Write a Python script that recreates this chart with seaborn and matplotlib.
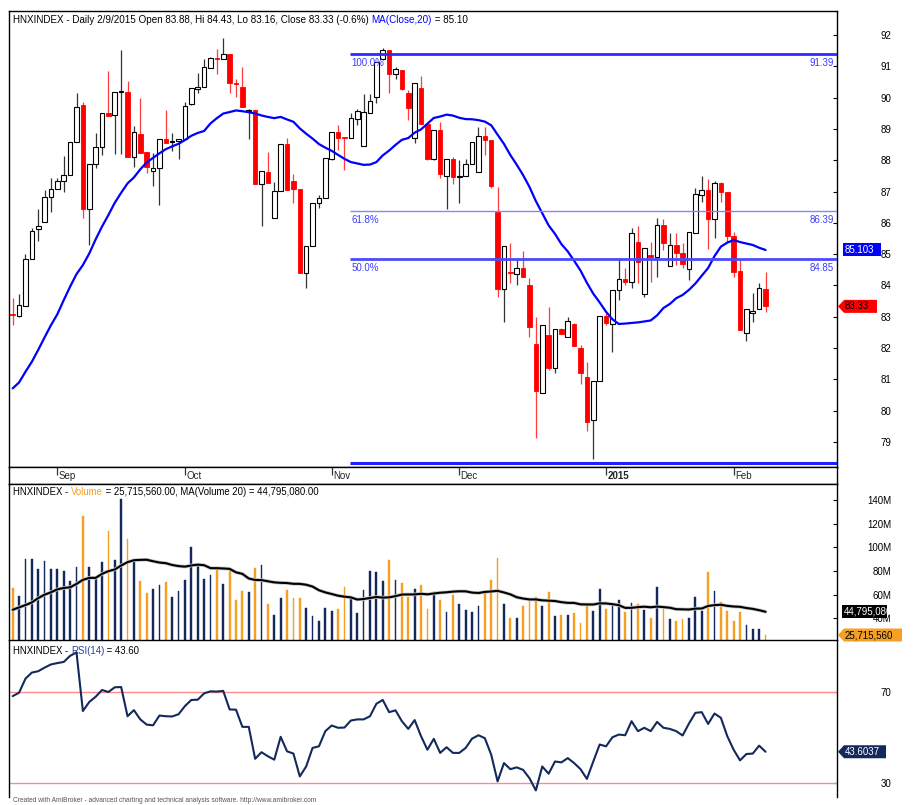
import matplotlib
matplotlib.use("Agg")
import matplotlib.pyplot as plt
from matplotlib.patches import Polygon
import numpy as np
import pandas as pd
import seaborn as sns

# ---------------- data ----------------
opens = [83.10, 83.03, 83.35, 84.83, 85.79, 86.01, 86.83, 87.07, 87.35, 87.53,
         88.59, 89.76, 86.44, 87.88, 88.43, 89.50, 89.44, 90.17, 90.19, 88.09,
         88.84, 88.25, 87.67, 87.74, 88.67, 88.58, 88.60, 88.67, 89.78, 90.27,
         90.35, 90.96, 91.25, 91.23, 91.39, 90.48, 90.35, 89.57, 89.60, 87.23,
         87.63, 86.14, 87.03, 88.52, 87.35, 87.08, 84.39, 85.27, 86.64, 86.80,
         88.03, 88.89, 88.74, 88.70, 89.32, 88.45, 89.50, 90.01, 91.22, 91.52,
         90.75, 90.88, 90.14, 88.70, 90.32, 89.16, 88.03, 88.96, 87.50, 88.03,
         87.45, 87.50, 87.88, 87.63, 88.77, 88.65, 86.36, 83.87, 84.44, 84.36,
         84.57, 84.01, 82.13, 80.55, 82.41, 81.35, 82.60, 82.36, 82.76, 81.99,
         81.06, 79.70, 80.94, 83.02, 82.77, 83.85, 84.20, 84.12, 85.40, 83.71,
         84.97, 84.90, 85.93, 84.63, 85.29, 85.02, 84.51, 85.66, 86.89, 87.05,
         86.11, 87.26, 86.99, 85.58, 84.46, 82.49, 83.11, 83.24, 83.88]
highs = [83.60, 83.73, 85.00, 85.82, 86.43, 87.05, 87.42, 87.42, 88.14, 88.57,
         90.16, 89.87, 87.88, 88.86, 89.50, 90.85, 90.19, 91.52, 90.54, 89.09,
         89.98, 88.25, 88.24, 88.67, 89.60, 88.86, 88.69, 89.87, 90.30, 90.78,
         91.22, 91.31, 91.54, 91.89, 91.39, 90.60, 90.97, 89.62, 89.60, 87.66,
         88.27, 87.29, 88.52, 88.72, 87.56, 87.08, 85.27, 86.64, 86.89, 88.06,
         88.91, 89.12, 88.74, 89.50, 89.62, 90.12, 90.12, 91.15, 91.60, 91.52,
         90.99, 90.88, 90.24, 90.46, 90.69, 89.16, 88.96, 89.23, 88.03, 88.11,
         88.00, 88.03, 88.59, 89.07, 89.05, 88.65, 87.15, 85.26, 85.36, 84.81,
         85.10, 84.23, 83.00, 82.73, 83.30, 82.60, 82.63, 83.00, 82.81, 82.10,
         81.56, 80.94, 83.02, 83.11, 83.85, 84.88, 84.57, 85.82, 85.90, 85.18,
         85.40, 86.14, 86.11, 85.66, 85.66, 85.34, 85.70, 87.10, 87.50, 87.39,
         87.35, 87.31, 86.99, 85.72, 84.83, 83.24, 83.75, 84.09, 84.43]
lows = [82.75, 83.00, 83.35, 84.83, 85.42, 86.01, 86.36, 87.07, 86.99, 87.53,
        88.59, 86.16, 85.29, 87.74, 88.17, 89.40, 88.19, 88.19, 88.09, 87.79,
        88.24, 87.58, 87.16, 86.57, 88.56, 88.29, 88.03, 88.67, 89.76, 90.14,
        90.33, 90.96, 90.74, 91.23, 90.16, 90.03, 89.69, 88.68, 87.23, 85.90,
        87.28, 86.14, 87.03, 87.05, 86.62, 84.39, 83.91, 85.27, 86.46, 86.80,
        88.00, 88.33, 87.69, 88.70, 89.12, 88.45, 89.50, 89.84, 91.20, 90.14,
        90.58, 90.24, 89.28, 88.54, 89.16, 88.01, 88.01, 87.42, 86.43, 87.24,
        86.62, 87.50, 87.88, 87.63, 88.17, 87.10, 83.64, 82.84, 84.09, 84.01,
        84.26, 82.36, 79.11, 80.55, 81.30, 81.21, 82.44, 82.36, 82.06, 80.85,
        79.35, 78.44, 80.94, 82.74, 81.88, 83.53, 84.01, 83.91, 84.07, 83.64,
        84.12, 84.28, 85.13, 84.63, 84.65, 84.54, 84.17, 85.66, 86.67, 85.15,
        85.50, 86.67, 85.40, 84.28, 82.58, 82.23, 82.84, 83.24, 83.16]
closes = [83.05, 83.37, 84.84, 85.74, 85.91, 86.81, 87.08, 87.35, 87.53, 88.57,
          89.71, 86.43, 87.88, 88.43, 89.50, 89.41, 90.19, 90.21, 88.09, 88.89,
          88.24, 87.77, 87.74, 88.67, 88.56, 88.62, 88.69, 89.73, 90.30, 90.35,
          90.97, 91.26, 91.23, 91.39, 90.46, 90.44, 89.69, 89.59, 87.23, 87.66,
          87.28, 87.02, 88.52, 87.05, 87.07, 84.39, 85.27, 86.64, 86.80, 88.06,
          88.91, 88.70, 88.70, 89.34, 89.57, 89.53, 89.89, 91.15, 91.52, 90.75,
          90.90, 90.26, 89.66, 90.46, 89.16, 88.03, 88.96, 87.55, 88.03, 87.45,
          87.48, 87.88, 88.59, 88.77, 88.65, 87.19, 83.87, 85.26, 84.40, 84.57,
          84.26, 82.68, 80.64, 82.73, 81.35, 82.60, 82.44, 82.86, 82.06, 81.19,
          79.65, 80.94, 83.02, 82.79, 83.85, 84.20, 84.12, 85.66, 84.74, 85.18,
          84.90, 85.93, 85.37, 85.29, 85.02, 84.67, 85.70, 86.92, 87.05, 86.11,
          87.26, 86.99, 85.58, 84.44, 82.58, 83.24, 83.18, 83.91, 83.33]
# volume in millions of shares
volumes_m = [65.6, 59.0, 89.7, 89.7, 81.5, 88.6, 81.5, 82.0, 79.8, 71.8,
             82.9, 126.4, 83.7, 73.5, 87.2, 113.6, 89.4, 140.8, 107.0, 87.4,
             71.2, 61.6, 64.4, 67.8, 70.4, 58.2, 62.7, 72.7, 99.9, 85.4,
             73.5, 76.6, 82.9, 68.7, 80.3, 55.3, 63.3, 62.4, 82.3, 84.6,
             51.9, 42.6, 56.8, 64.1, 57.3, 57.3, 48.2, 41.7, 37.7, 48.8,
             46.2, 48.0, 66.1, 57.0, 44.0, 64.1, 80.3, 79.5, 71.8, 88.9,
             72.4, 70.0, 58.0, 65.0, 68.0, 48.0, 62.0, 55.0, 45.0, 60.0,
             52.0, 47.0, 45.0, 50.0, 62.0, 72.0, 91.0, 52.0, 40.0, 40.0,
             50.0, 55.0, 58.0, 50.0, 62.0, 42.0, 43.0, 43.0, 44.0, 36.0,
             50.0, 46.0, 65.0, 48.0, 50.0, 55.0, 45.0, 53.0, 52.0, 47.0,
             40.0, 66.7, 49.6, 39.2, 37.7, 39.2, 40.0, 58.2, 45.7, 79.5,
             63.3, 53.3, 45.7, 37.2, 44.8, 34.3, 30.6, 30.6, 25.72]
# MA values of the first 19 bars (they depend on bars before the window)
ma20_head = [80.71, 80.90, 81.24, 81.56, 81.94, 82.34, 82.73, 83.08, 83.53, 83.96,
             84.36, 84.65, 85.02, 85.47, 85.88, 86.25, 86.64, 86.96, 87.26]
vol_ma20_head = [47.1, 49.1, 51.1, 53.3, 57.0, 59.9, 61.9, 64.4, 65.6, 66.1,
                 69.0, 72.4, 74.1, 74.1, 77.5, 79.8, 81.2, 84.6, 87.4]
rsi14 = [68.2, 69.7, 75.9, 78.6, 79.2, 80.8, 82.2, 82.8, 83.3, 86.0,
         87.5, 61.6, 65.6, 67.9, 70.9, 70.0, 72.1, 72.2, 59.3, 62.0,
         57.9, 55.6, 55.3, 59.6, 59.3, 59.2, 60.2, 63.8, 66.5, 66.6,
         69.4, 70.3, 70.2, 70.5, 62.3, 62.2, 54.6, 54.6, 40.5, 43.4,
         41.6, 40.1, 50.2, 43.8, 42.8, 32.7, 37.1, 45.3, 46.0, 52.7,
         55.2, 54.2, 54.3, 57.4, 57.9, 57.9, 59.3, 64.8, 66.5, 61.1,
         61.9, 57.1, 53.7, 57.6, 50.5, 44.5, 49.3, 43.1, 45.6, 43.1,
         43.1, 45.3, 49.4, 50.9, 49.6, 42.3, 30.5, 38.6, 35.9, 36.7,
         35.6, 31.9, 26.5, 37.1, 33.9, 39.3, 38.9, 40.8, 38.6, 35.9,
         31.6, 39.3, 46.8, 46.0, 50.0, 51.2, 50.9, 57.1, 52.7, 54.2,
         52.7, 56.8, 54.2, 53.7, 52.7, 50.8, 56.1, 60.8, 61.1, 55.9,
         60.5, 58.6, 50.5, 44.5, 39.8, 42.6, 42.8, 46.3, 43.60]
month_labels = ["Sep", "Oct", "Nov", "Dec", "2015", "Feb"]
month_start_bar = [7, 27, 50, 70, 93, 113]
fib_names = ["100.0%", "61.8%", "50.0%", "0.0%"]
fib_levels = [91.39, 86.39, 84.85, 78.33]
fib_start_bar = 52.9
price_ticks = list(range(79, 93))
vol_ticks_m = [40, 60, 80, 100, 120, 140]
rsi_ticks = [30, 70]
header_main = "HNXINDEX - Daily 2/9/2015 Open 83.88, Hi 84.43, Lo 83.16, Close 83.33 (-0.6%) "
header_ma = ("MA(Close,20)", " = 85.10")
header_vol = ("Volume", " = 25,715,560.00, MA(Volume 20) = 44,795,080.00")
header_rsi = ("RSI(14)", " = 43.60")
tag_ma, tag_vol, tag_vma, tag_rsi = "85.103", "25,715,560", "44,795,080", "43.6037"

# ---------------- frame ----------------
df = pd.DataFrame({"open": opens, "high": highs, "low": lows, "close": closes,
                   "vol": volumes_m, "rsi": rsi14})
df["bar"] = np.arange(len(df))
df["ma"] = df["close"].rolling(20).mean()
df.loc[:18, "ma"] = ma20_head
df["vma"] = df["vol"].rolling(20).mean()
df.loc[:18, "vma"] = vol_ma20_head
up = df["close"] >= df["open"]

sns.set_style("white")
plt.rcParams["font.family"] = ["Liberation Sans", "DejaVu Sans"]

W, H = 917, 805
fig = plt.figure(figsize=(W / 100, H / 100), dpi=100)
fig.patch.set_facecolor("white")


def rect(top, bottom, left=9, right=837):
    return [left / W, 1 - bottom / H, (right - left) / W, (bottom - top) / H]


ax = fig.add_axes(rect(11, 467))
axd = fig.add_axes(rect(467, 484))
axv = fig.add_axes(rect(484, 640))
axr = fig.add_axes(rect(640, 797))

XL = (-0.58, 129.2)
NAVY = "#13295c"
ORANGE = "#f5a023"
RED = "#ff0000"
FIBC = "#3d3dff"

# ---------------- price pane ----------------
ax.vlines(df.bar[up], df.low[up], df.high[up], color="#333333", lw=0.9, zorder=2)
ax.vlines(df.bar[~up], df.low[~up], df.high[~up], color="#ff3b3b", lw=0.9, zorder=2)
body_lo = np.minimum(df.open, df.close)
body_h = np.maximum(np.abs(df.close - df.open), 0.015)
ax.bar(df.bar[up], body_h[up], bottom=body_lo[up], width=0.72, color="white",
       edgecolor="black", linewidth=0.8, zorder=3)
ax.bar(df.bar[~up], body_h[~up], bottom=body_lo[~up], width=0.72, color=RED,
       edgecolor=RED, linewidth=0.6, zorder=3)
sns.lineplot(data=df, x="bar", y="ma", ax=ax, color="#0000ff", lw=1.6, zorder=4)

fib_w = [2.0, 1.0, 2.0, 2.2]
fib_c = ["#2b2bff", "#8585ff", "#4a4aff", "#1f1fff"]
for name, lev, lw_, c in zip(fib_names, fib_levels, fib_w, fib_c):
    ax.hlines(lev, fib_start_bar, XL[1], color=c, lw=lw_, zorder=5)
    ax.annotate(name, xy=(fib_start_bar, lev), xytext=(1, -3), textcoords="offset points",
                va="top", ha="left", fontsize=7, color=FIBC, annotation_clip=False,
                clip_on=True, zorder=6)
    ax.annotate(f"{lev:.2f}", xy=(XL[1], lev), xytext=(-2, -3), textcoords="offset points",
                va="top", ha="right", fontsize=7, color=FIBC, clip_on=True, zorder=6)

ax.set_xlim(XL)
ax.set_ylim(78.198, 92.767)
ax.set_yticks(price_ticks)

# ---------------- date strip ----------------
axd.set_xlim(XL)
axd.set_ylim(0, 1)
axd.set_xticks([])
axd.set_yticks([])
axd.vlines(month_start_bar, 0.55, 1.0, color="#333333", lw=0.9)
for b, lab in zip(month_start_bar, month_labels):
    axd.text(b + 0.2, 0.45, lab, fontsize=7, va="center", ha="left",
             fontweight="bold" if lab == "2015" else "normal")

# ---------------- volume pane ----------------
vcol = [NAVY if u else ORANGE for u in up]
axv.bar(df.bar, df.vol, width=0.28, color=vcol, edgecolor=vcol, linewidth=0.3, zorder=2)
sns.lineplot(data=df, x="bar", y="vma", ax=axv, color="#c8c8c8", lw=2.6, zorder=3)
sns.lineplot(data=df, x="bar", y="vma", ax=axv, color="black", lw=1.5, zorder=4)
axv.set_xlim(XL)
axv.set_ylim(21.5, 153.6)
axv.set_yticks(vol_ticks_m)
axv.set_yticklabels([f"{t}M" for t in vol_ticks_m])

# ---------------- RSI pane ----------------
axr.axhline(70, color="#ff8a8a", lw=1.0, zorder=1)
axr.axhline(30, color="#ff8a8a", lw=1.0, zorder=1)
sns.lineplot(data=df, x="bar", y="rsi", ax=axr, color=NAVY, lw=1.5, zorder=3)
axr.set_xlim(XL)
axr.set_ylim(23.6, 93.0)
axr.set_yticks(rsi_ticks)

for a in (ax, axv, axr):
    a.set_xlabel("")
    a.set_ylabel("")
    a.set_xticks([])
    a.yaxis.tick_right()
    a.tick_params(axis="y", direction="in", length=3, width=0.8, pad=39,
                  labelsize=7, colors="black")
    for lab in a.get_yticklabels():
        lab.set_horizontalalignment("right")
for a in (ax, axd, axv, axr):
    for s in a.spines.values():
        s.set_color("black")
        s.set_linewidth(1.0)
axv.spines["bottom"].set_visible(False)
axr.spines["bottom"].set_visible(False)

# ---------------- texts ----------------
renderer = fig.canvas.get_renderer()


def text_w(s, size):
    t1 = fig.text(0, 0, s + "|", fontsize=size)
    t2 = fig.text(0, 0, "|", fontsize=size)
    w = t1.get_window_extent(renderer).width - t2.get_window_extent(renderer).width
    t1.remove()
    t2.remove()
    return w


def multi_text(x_px, y_px, parts, size=7.0):
    x = x_px
    for s, c in parts:
        fig.text(x / W, 1 - y_px / H, s, color=c, fontsize=size, va="center", ha="left")
        x += text_w(s, size)


multi_text(13, 20, [(header_main, "black"), (header_ma[0], "#0000ff"), (header_ma[1], "black")],
           size=7.1)
multi_text(13, 492, [("HNXINDEX - ", "black"), (header_vol[0], ORANGE), (header_vol[1], "black")],
           size=6.9)
multi_text(13, 651, [("HNXINDEX - ", "black"), (header_rsi[0], "#2a3f9a"), (header_rsi[1], "black")],
           size=6.9)

fig.text(13 / W, 1 - 797 / H,
         "Created with AmiBroker - advanced charting and technical analysis software. http://www.amibroker.com",
         fontsize=4.8, color="#555555", va="top", ha="left")


def tag(axis, val, text, fc, tc, x0, x1, arrow=False, h=13):
    yd = axis.transData.transform((0, val))[1]
    if arrow:
        pts = [(x0, yd), (x0 + 6, yd + h / 2), (x1, yd + h / 2), (x1, yd - h / 2), (x0 + 6, yd - h / 2)]
        tx = x0 + 7
    else:
        pts = [(x0, yd - h / 2), (x0, yd + h / 2), (x1, yd + h / 2), (x1, yd - h / 2)]
        tx = x0 + 2
    fig.add_artist(Polygon([(px / W, py / H) for px, py in pts], closed=True,
                           transform=fig.transFigure, fc=fc, ec="none", zorder=10))
    fig.text(tx / W, yd / H, text, color=tc, fontsize=7, va="center", ha="left", zorder=11)


tag(ax, df.ma.iloc[-1], tag_ma, "#0000ff", "white", 843, 881)
tag(ax, closes[-1], f"{closes[-1]:.2f}", RED, "black", 838, 877, arrow=True)
tag(axv, df.vma.iloc[-1], tag_vma, "black", "white", 842, 887)
tag(axv, volumes_m[-1], tag_vol, ORANGE, "black", 838, 902, arrow=True)
tag(axr, rsi14[-1], tag_rsi, NAVY, "white", 838, 886, arrow=True)

fig.savefig("out.png", dpi=100)
